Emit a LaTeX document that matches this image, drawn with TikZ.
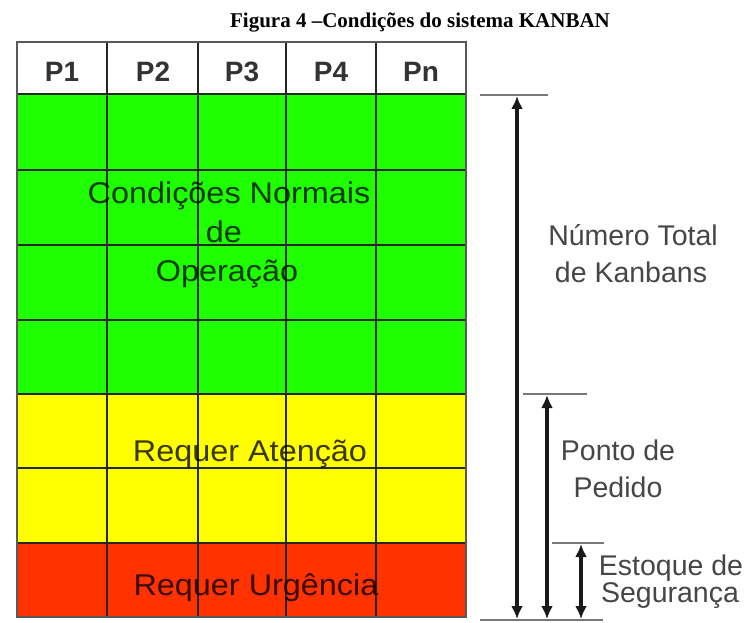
\documentclass[tikz,border=0pt]{standalone}
\usepackage{fontspec}
\setmainfont{Liberation Serif}
\newfontfamily\arialf{Liberation Sans}
\usetikzlibrary{arrows.meta}
\definecolor{kgreen}{RGB}{30,255,0}
\definecolor{kyellow}{RGB}{255,255,0}
\definecolor{kred}{RGB}{255,50,0}
\definecolor{tickgray}{RGB}{120,120,120}
\definecolor{labgray}{RGB}{70,70,70}
\tikzset{
  gridline/.style={line width=2.2pt, draw=black!85},
  headtxt/.style={anchor=base, font=\arialf\bfseries\fontsize{28}{34}\selectfont, text=black!80},
  celltxt/.style={anchor=base, font=\arialf\fontsize{30}{36}\selectfont, text=black, text opacity=0.78, xscale=1.08, transform shape},
  sidetxt/.style={anchor=base, font=\arialf\fontsize{28.5}{34}\selectfont, text=labgray},
  tickline/.style={draw=tickgray, line width=1.6pt},
  dimarrow/.style={draw=black!90, line width=3.6pt, {Latex[length=13pt,width=12pt]}-{Latex[length=13pt,width=12pt]}},
}
\begin{document}
\begin{tikzpicture}[x=1pt,y=-1pt]
\useasboundingbox (0,0) rectangle (749,623);
% title
\node[anchor=base, font=\bfseries\fontsize{21}{25}\selectfont] (title) at (420,28) {Figura 4 –Condições do sistema KANBAN};
% fills
\fill[white] (17,42) rectangle (466,94);
\fill[kgreen] (17,94) rectangle (466,394);
\fill[kyellow] (17,394) rectangle (466,543);
\fill[kred] (17,543) rectangle (466,617);
% grid
\foreach \y in {94,170,245,320,394,468,543} \draw[gridline] (17,\y) -- (466,\y);
\foreach \x in {107,198,286,376} \draw[gridline] (\x,42) -- (\x,617);
\draw[line width=2.2pt, draw=black!65] (17,42) rectangle (466,617);
% header
\node[headtxt] (p1) at (62,82) {P1};
\node[headtxt] (p2) at (153,82) {P2};
\node[headtxt] (p3) at (242,82) {P3};
\node[headtxt] (p4) at (331,82) {P4};
\node[headtxt] (pn) at (421,82) {Pn};
% cell texts
\node[celltxt] (cn1) at (229,203) {Condições Normais};
\node[celltxt] (cn2) at (224,242) {de};
\node[celltxt] (cn3) at (227,281) {Operação};
\node[celltxt] (ra) at (250,461) {Requer Atenção};
\node[celltxt] (ru) at (256,595) {Requer Urgência};
% ticks
\coordinate (t1a) at (480,95); \coordinate (t1b) at (548,95);
\coordinate (t2a) at (523,394); \coordinate (t2b) at (587,394);
\coordinate (t3a) at (552,543); \coordinate (t3b) at (604,543);
\coordinate (t4a) at (480,620); \coordinate (t4b) at (603,620);
\draw[tickline] (t1a) -- (t1b);
\draw[tickline] (t2a) -- (t2b);
\draw[tickline] (t3a) -- (t3b);
\draw[tickline] (t4a) -- (t4b);
% arrows
\coordinate (a1t) at (517,96); \coordinate (a1b) at (517,619);
\coordinate (a2t) at (547,395); \coordinate (a2b) at (547,619);
\coordinate (a3t) at (581,544); \coordinate (a3b) at (581,619);
\draw[dimarrow] (a1t) -- (a1b);
\draw[dimarrow] (a2t) -- (a2b);
\draw[dimarrow] (a3t) -- (a3b);
% side labels
\node[sidetxt] (nt1) at (633,245) {Número Total};
\node[sidetxt] (nt2) at (631,282) {de Kanbans};
\node[sidetxt] (pp1) at (618,460) {Ponto de};
\node[sidetxt] (pp2) at (618,497) {Pedido};
\node[sidetxt] (es1) at (671,575) {Estoque de};
\node[sidetxt] (es2) at (670,602) {Segurança};
\end{tikzpicture}
\end{document}
